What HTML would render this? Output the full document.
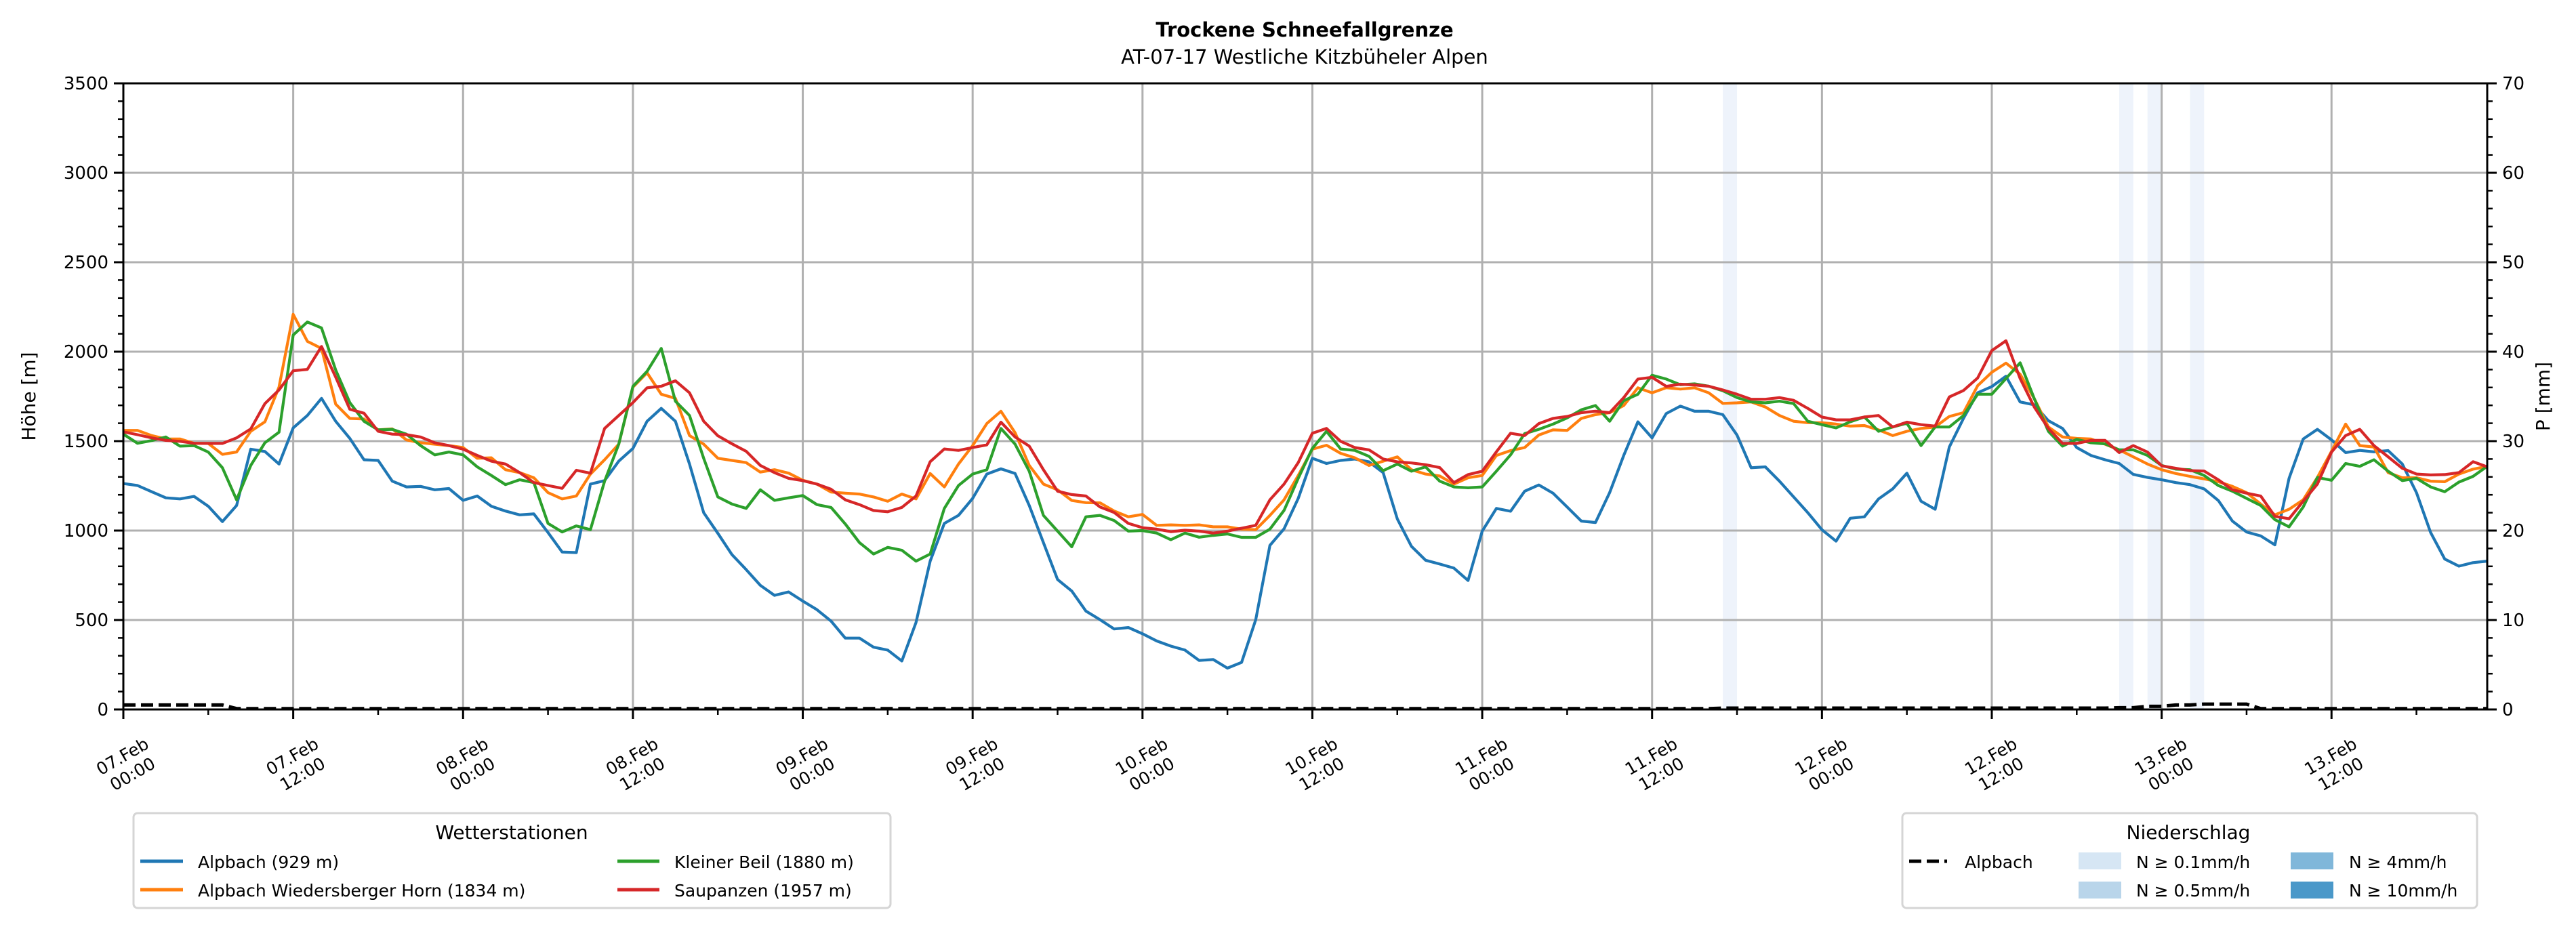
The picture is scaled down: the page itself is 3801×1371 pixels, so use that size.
<!DOCTYPE html>
<html><head><meta charset="utf-8"><style>
html,body{margin:0;padding:0;background:#fff;}
svg{display:block;font-family:"DejaVu Sans","Liberation Sans",sans-serif;}
</style></head><body>
<svg id="chart" xmlns="http://www.w3.org/2000/svg" width="3801" height="1371" viewBox="0 0 3801 1371">
<rect x="0" y="0" width="3801" height="1371" fill="#fff"/>
<text x="1925" y="54" text-anchor="middle" font-size="29" font-weight="bold">Trockene Schneefallgrenze</text>
<text x="1925" y="94" text-anchor="middle" font-size="29">AT-07-17 Westliche Kitzbüheler Alpen</text>
<g id="bands"></g>
<g id="grid"></g>
<g id="series"></g>
<g id="axes"></g>
<text transform="translate(52,585) rotate(-90)" text-anchor="middle" font-size="28">Höhe [m]</text>
<text transform="translate(3762,585) rotate(-90)" text-anchor="middle" font-size="28">P [mm]</text>

<g>
<rect x="197" y="1200" width="1117" height="140" rx="6" fill="#fff" stroke="#d5d5d5" stroke-width="3"/>
<text x="755" y="1238" text-anchor="middle" font-size="28">Wetterstationen</text>
<g><line x1="207" y1="1271" x2="270" y2="1271" stroke="#1f77b4" stroke-width="5"/><text x="292" y="1281" font-size="25">Alpbach (929 m)</text></g>
<g><line x1="207" y1="1313" x2="270" y2="1313" stroke="#ff7f0e" stroke-width="5"/><text x="292" y="1323" font-size="25">Alpbach Wiedersberger Horn (1834 m)</text></g>
<g><line x1="911" y1="1271" x2="973" y2="1271" stroke="#2ca02c" stroke-width="5"/><text x="995" y="1281" font-size="25">Kleiner Beil (1880 m)</text></g>
<g><line x1="911" y1="1313" x2="973" y2="1313" stroke="#d62728" stroke-width="5"/><text x="995" y="1323" font-size="25">Saupanzen (1957 m)</text></g>
</g>

<g>
<rect x="2807" y="1200" width="848" height="140" rx="6" fill="#fff" stroke="#d5d5d5" stroke-width="3"/>
<text x="3229" y="1238" text-anchor="middle" font-size="28">Niederschlag</text>
<g><line x1="2817" y1="1271" x2="2873" y2="1271" stroke="#000" stroke-width="5" stroke-dasharray="18,8"/><text x="2899" y="1281" font-size="25">Alpbach</text></g>
<g><rect x="3067" y="1258" width="63" height="25" fill="#d6e6f4"/><text x="3152" y="1281" font-size="25">N ≥ 0.1mm/h</text></g>
<g><rect x="3067" y="1301" width="63" height="25" fill="#b9d5ea"/><text x="3152" y="1323" font-size="25">N ≥ 0.5mm/h</text></g>
<g><rect x="3380" y="1258" width="63" height="25" fill="#80b7da"/><text x="3466" y="1281" font-size="25">N ≥ 4mm/h</text></g>
<g><rect x="3380" y="1301" width="63" height="25" fill="#4a98c9"/><text x="3466" y="1323" font-size="25">N ≥ 10mm/h</text></g>
</g>
</svg>
<script>
const alpbach = [1263,1252,1217,1183,1177,1191,1136,1050,1140,1455,1442,1372,1574,1643,1739,1611,1515,1396,1392,1276,1244,1247,1228,1235,1169,1193,1136,1109,1088,1093,989,880,877,1260,1279,1388,1459,1611,1683,1611,1372,1100,985,865,
782,694,638,657,606,558,494,399,399,348,332,271,486,829,1040,1085,1180,1316,1345,1319,1140,933,726,662,550,502,450,458,423,383,354,332,274,279,231,263,502,917,1010,1180,1404,1375,
1392,1400,1384,1324,1065,912,834,813,790,721,997,1124,1108,1220,1255,1209,1132,1053,1045,1212,1420,1608,1518,1654,1696,1667,1667,1648,1534,1351,1356,1276,1188,1100,1005,941,1069,1077,1177,1233,1321,1164,
1119,1467,1627,1770,1805,1863,1719,1703,1614,1571,1464,1420,1396,1375,1314,1297,1284,1268,1257,1233,1168,1053,992,970,920,1292,1512,1566,1507,1436,1448,1440,1447,1372,1212,989,841,801,821,829];
const horn = [1560,1560,1531,1512,1512,1488,1487,1426,1439,1555,1608,1802,2209,2058,2018,1707,1627,1624,1563,1568,1507,1491,1483,1475,1464,1404,1407,1340,1324,1295,1212,1177,1193,1316,1396,1483,1802,1882,1762,1739,1531,1483,1404,1392,
1380,1327,1340,1321,1281,1260,1215,1209,1204,1188,1164,1204,1177,1319,1244,1372,1475,1598,1667,1547,1364,1260,1228,1168,1156,1155,1109,1077,1090,1029,1032,1029,1032,1021,1021,1008,1005,1085,1172,1308,1455,1477,
1432,1407,1364,1388,1412,1340,1316,1305,1260,1295,1308,1420,1447,1464,1534,1563,1560,1627,1648,1659,1699,1798,1770,1799,1791,1798,1770,1711,1714,1719,1691,1643,1611,1603,1603,1595,1584,1587,1563,1531,1555,1571,
1579,1638,1659,1810,1885,1936,1874,1738,1579,1523,1515,1512,1483,1451,1412,1372,1340,1319,1303,1289,1273,1247,1212,1148,1088,1119,1172,1297,1443,1595,1475,1467,1324,1295,1295,1276,1273,1316,1343,1359];
const beil = [1539,1488,1503,1523,1472,1475,1439,1351,1172,1364,1491,1550,2093,2166,2133,1898,1715,1611,1563,1566,1539,1475,1423,1439,1423,1356,1308,1257,1284,1268,1040,992,1026,1005,1276,1483,1806,1890,2018,1723,1643,1404,1188,1148,
1124,1228,1169,1183,1196,1145,1129,1037,933,869,906,890,829,869,1124,1252,1316,1340,1571,1483,1332,1085,997,909,1077,1085,1056,997,1000,986,949,986,963,973,981,962,962,1008,1113,1292,1459,1555,
1456,1448,1415,1335,1372,1332,1356,1276,1244,1239,1244,1332,1423,1542,1566,1595,1630,1675,1699,1611,1726,1762,1868,1847,1815,1820,1807,1782,1743,1719,1714,1723,1710,1611,1592,1574,1608,1635,1555,1579,1600,1475,
1579,1579,1643,1762,1762,1850,1938,1738,1555,1472,1510,1491,1485,1451,1451,1420,1364,1343,1340,1308,1252,1220,1180,1140,1061,1021,1132,1297,1281,1375,1359,1396,1332,1279,1292,1244,1217,1271,1303,1359];
const saupanzen = [1552,1536,1518,1504,1499,1488,1487,1487,1518,1568,1710,1786,1893,1901,2029,1858,1678,1656,1555,1539,1536,1523,1491,1475,1455,1420,1388,1372,1324,1268,1252,1236,1337,1321,1571,1643,1715,1798,1807,1837,1770,1611,1530,1485,
1443,1364,1324,1292,1279,1260,1231,1172,1145,1112,1105,1129,1193,1385,1456,1448,1464,1479,1606,1523,1472,1340,1220,1201,1193,1132,1101,1040,1016,1008,994,1002,997,986,997,1013,1029,1172,1260,1380,1544,1571,
1499,1464,1451,1400,1384,1378,1368,1352,1268,1313,1332,1440,1544,1531,1598,1627,1638,1659,1667,1659,1743,1847,1857,1806,1818,1814,1807,1786,1762,1734,1734,1743,1728,1683,1635,1619,1619,1635,1643,1579,1606,1592,
1584,1747,1783,1853,2006,2061,1850,1691,1571,1487,1487,1504,1504,1436,1475,1439,1362,1348,1335,1333,1284,1228,1209,1193,1080,1066,1164,1260,1439,1531,1566,1475,1412,1348,1316,1311,1313,1324,1385,1356];
const precip = [0.5,0.5,0.5,0.5,0.5,0.5,0.5,0.5,0.1,0.1,0.1,0.1,
0.1,0.1,0.1,0.1,0.1,0.1,0.1,0.1,0.1,0.1,0.1,0.1,
0.1,0.1,0.1,0.1,0.1,0.1,0.1,0.1,0.1,0.1,0.1,0.1,
0.1,0.1,0.1,0.1,0.1,0.1,0.1,0.1,0.1,0.1,0.1,0.1,
0.1,0.1,0.1,0.1,0.1,0.1,0.1,0.1,0.1,0.1,0.1,0.1,
0.1,0.1,0.1,0.1,0.1,0.1,0.1,0.1,0.1,0.1,0.1,0.1,
0.1,0.1,0.1,0.1,0.1,0.1,0.1,0.1,0.1,0.1,0.1,0.1,
0.1,0.1,0.1,0.1,0.1,0.1,0.1,0.1,0.1,0.1,0.1,0.1,
0.1,0.1,0.1,0.1,0.1,0.1,0.1,0.1,0.1,0.1,0.1,0.1,
0.1,0.1,0.1,0.1,0.1,0.15,0.15,0.15,0.15,0.15,0.15,0.15,
0.15,0.15,0.15,0.15,0.15,0.15,0.15,0.15,0.15,0.15,0.15,0.15,
0.15,0.15,0.15,0.15,0.15,0.15,0.15,0.15,0.15,0.2,0.2,0.35,
0.35,0.5,0.5,0.6,0.6,0.6,0.6,0.1,0.1,0.1,0.1,0.1,
0.1,0.1,0.1,0.1,0.1,0.1,0.1,0.1,0.1,0.1,0.1,0.1];
const rainHours = [113,141,143,146];
const yTicks = [0,500,1000,1500,2000,2500,3000,3500];
const y2Ticks = [0,10,20,30,40,50,60,70];
const xTickDates = ["07.Feb","07.Feb","08.Feb","08.Feb","09.Feb","09.Feb","10.Feb","10.Feb","11.Feb","11.Feb","12.Feb","12.Feb","13.Feb","13.Feb"];
const xTickTimes = ["00:00","12:00","00:00","12:00","00:00","12:00","00:00","12:00","00:00","12:00","00:00","12:00","00:00","12:00"];

const NS="http://www.w3.org/2000/svg";
const L=182,R=3670,T=123,B=1047,HMAX=167;
function xs(h){return L+h*(R-L)/HMAX;}
function ys(v){return B-v/3500*(B-T);}
function yp(p){return B-p/70*(B-T);}
function mk(tag,attrs,parent){const e=document.createElementNS(NS,tag);for(const k in attrs)e.setAttribute(k,attrs[k]);parent.appendChild(e);return e;}
const grid=document.getElementById('grid'),axes=document.getElementById('axes'),series=document.getElementById('series'),bands=document.getElementById('bands');

rainHours.forEach(h=>{
  const r=mk('rect',{x:xs(h),y:T,width:xs(h+1)-xs(h),height:B-T,fill:'#eef3fb'},bands);
  
  
});
yTicks.forEach(v=>{
  const g=mk('line',{x1:L,x2:R,y1:ys(v),y2:ys(v),stroke:'#b0b0b0','stroke-width':3},grid);
  
  
  mk('line',{x1:L-14,x2:L,y1:ys(v),y2:ys(v),stroke:'#000','stroke-width':3},axes);
  const t=mk('text',{x:L-22,y:ys(v)+9,'text-anchor':'end','font-size':26},axes);
  t.textContent=v;
  
  
});
for(let v=100;v<3500;v+=100){ if(v%500) mk('line',{x1:L-8,x2:L,y1:ys(v),y2:ys(v),stroke:'#000','stroke-width':2.5},axes); }
y2Ticks.forEach(p=>{
  mk('line',{x1:R,x2:R+14,y1:yp(p),y2:yp(p),stroke:'#000','stroke-width':3},axes);
  const t=mk('text',{x:R+22,y:yp(p)+9,'font-size':26},axes);
  t.textContent=p;
  
  
});
for(let p=2;p<70;p+=2){ if(p%10) mk('line',{x1:R,x2:R+8,y1:yp(p),y2:yp(p),stroke:'#000','stroke-width':2.5},axes); }
xTickDates.forEach((d,i)=>{
  const h=i*12,x=xs(h);
  const g=mk('line',{x1:x,x2:x,y1:T,y2:B,stroke:'#b0b0b0','stroke-width':3},grid);
  
  
  mk('line',{x1:x,x2:x,y1:B,y2:B+14,stroke:'#000','stroke-width':3},axes);
  const t=mk('text',{transform:`translate(${x+6},${B+82}) rotate(-30)`,'text-anchor':'middle','font-size':25},axes);
  
  
  const a=mk('tspan',{x:0,y:-6},t);a.textContent=d;
  const b=mk('tspan',{x:0,y:24},t);b.textContent=xTickTimes[i];
});
for(let h=6;h<=HMAX;h+=12) mk('line',{x1:xs(h),x2:xs(h),y1:B,y2:B+8,stroke:'#000','stroke-width':2.5},axes);

function path(arr,scale){return arr.map((v,i)=>(i?'L':'M')+xs(i).toFixed(1)+','+scale(v).toFixed(1)).join('');}
const sdef=[[alpbach,'#1f77b4','line-alpbach'],[horn,'#ff7f0e','line-horn'],[beil,'#2ca02c','line-beil'],[saupanzen,'#d62728','line-saupanzen']];
sdef.forEach(s=>{
  const p=mk('path',{d:path(s[0],ys),fill:'none',stroke:s[1],'stroke-width':4.2,'stroke-linejoin':'round'},series);
  
  
});
const pp=mk('path',{d:path(precip,yp),fill:'none',stroke:'#000','stroke-width':5,'stroke-dasharray':'18,8'},series);



mk('rect',{x:L,y:T,width:R-L,height:B-T,fill:'none',stroke:'#000','stroke-width':3},axes);
</script>
</body></html>
